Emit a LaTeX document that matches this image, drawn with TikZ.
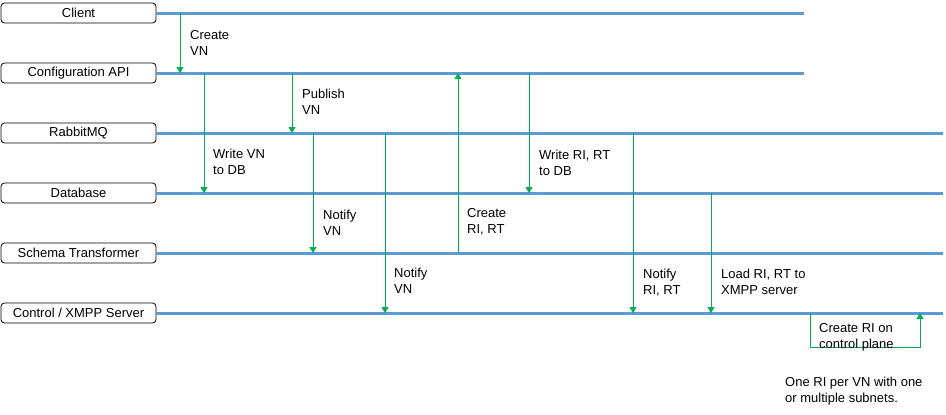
\documentclass[tikz,border=0pt]{standalone}
\usepackage{fontspec}
\setmainfont{Liberation Sans}
\usetikzlibrary{arrows.meta}
\definecolor{lifeblue}{HTML}{5B9BD5}
\definecolor{msggreen}{HTML}{00B050}

\begin{document}
\begin{tikzpicture}[x=1pt, y=-1pt,
    every node/.style={font=\fontsize{13}{16}\selectfont},
    actor/.style={draw, rounded corners=3.5pt, line width=0.8pt, minimum width=155pt, minimum height=20pt, inner sep=0pt},
    lifeline/.style={lifeblue, line width=3pt},
    msg/.style={msggreen, line width=0.9pt, -{Triangle[length=6pt,width=7pt]}},
    note/.style={anchor=north west, align=left, inner sep=0pt}]
      \useasboundingbox (0,0) rectangle (946,415);

      % Components
      \node[actor] (client) at (78.5,13) {Client};
      \node[actor] (api) at (78.5,73) {Configuration API};
      \node[actor] (mq) at (78.5,133) {RabbitMQ};
      \node[actor] (db) at (78.5,193) {Database};
      \node[actor] (st) at (78.5,253) {Schema Transformer};
      \node[actor] (ctrl) at (78.5,313) {Control / XMPP Server};

      % Lifelines
      \coordinate (short) at (804,0);
      \coordinate (long) at (943,0);
      \draw[lifeline] (client.east) -- (client -| short);
      \draw[lifeline] (api.east) -- (api -| short);
      \draw[lifeline] (mq.east) -- (mq -| long);
      \draw[lifeline] (db.east) -- (db -| long);
      \draw[lifeline] (st.east) -- (st -| long);
      \draw[lifeline] (ctrl.east) -- (ctrl -| long);

      % Message columns
      \coordinate (xcv) at (180,0);
      \coordinate (xwv) at (204,0);
      \coordinate (xpv) at (292,0);
      \coordinate (xnv) at (313,0);
      \coordinate (xnv2) at (385,0);
      \coordinate (xcr) at (458,0);
      \coordinate (xwr) at (529,0);
      \coordinate (xnr) at (633,0);
      \coordinate (xld) at (711,0);
      \coordinate (loop) at (810,347);
      \coordinate (xback) at (920,0);

      % Messages
      \draw[msg] (xcv |- client) -- (xcv |- api);
      \draw[msg] (xwv |- api) -- (xwv |- db);
      \draw[msg] (xpv |- api) -- (xpv |- mq);
      \draw[msg] (xnv |- mq) -- (xnv |- st);
      \draw[msg] (xnv2 |- mq) -- (xnv2 |- ctrl);
      \draw[msg] (xcr |- st) -- (xcr |- api);
      \draw[msg] (xwr |- api) -- (xwr |- db);
      \draw[msg] (xnr |- mq) -- (xnr |- ctrl);
      \draw[msg] (xld |- db) -- (xld |- ctrl);
      \draw[msg] (loop |- ctrl) -- (loop) -| (xback |- ctrl);

      % Labels
      \node[note] (lcv) at (190,30) {Create\\VN};
      \node[note] (lpv) at (302,89) {Publish\\VN};
      \node[note] (lwv) at (213,149) {Write VN\\to DB};
      \node[note] (lnv) at (323,210) {Notify\\VN};
      \node[note] (lcr) at (467,208) {Create\\RI, RT};
      \node[note] (lwr) at (539,150) {Write RI, RT\\to DB};
      \node[note] (lnv2) at (394,268) {Notify\\VN};
      \node[note] (lnr) at (643,269) {Notify\\RI, RT};
      \node[note] (lld) at (721,269) {Load RI, RT to\\XMPP server};
      \node[note] (lcp) at (819,323) {Create RI on\\control plane};
      \node[note] (remark) at (785,377) {One RI per VN with one\\or multiple subnets.};
    \end{tikzpicture}
\end{document}
